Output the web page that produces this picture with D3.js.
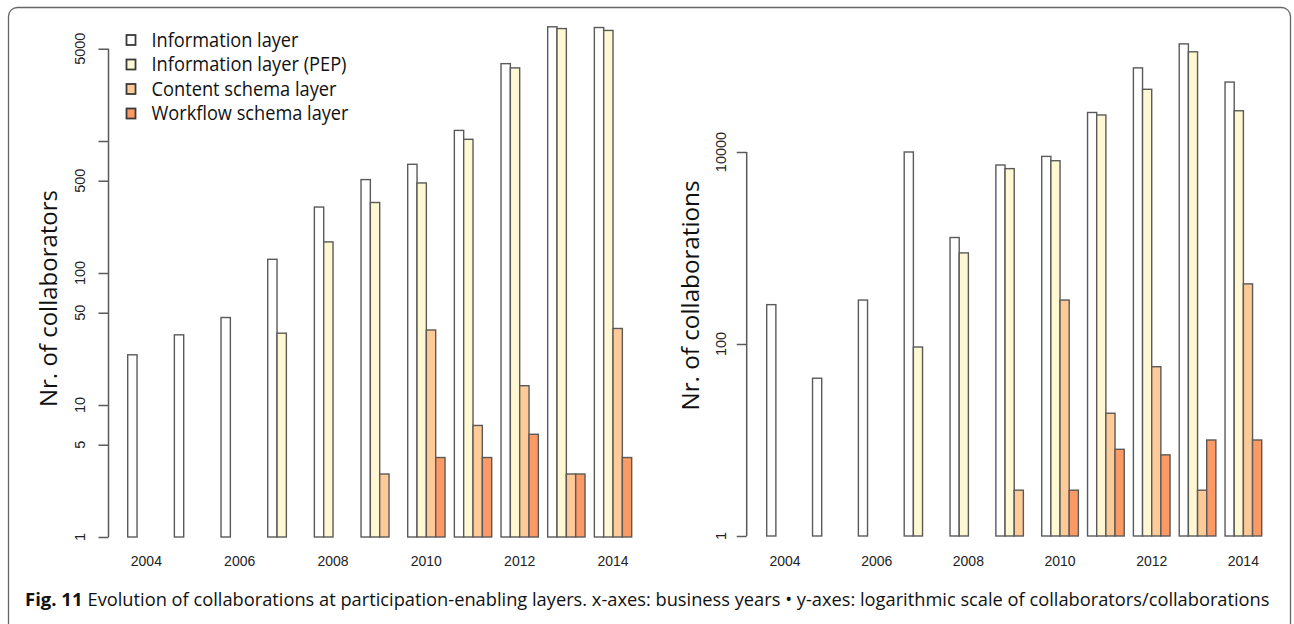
<!DOCTYPE html>
<html><head><meta charset="utf-8">
<script src="https://cdn.jsdelivr.net/npm/d3@7"></script>
<style>body{margin:0;background:#fff}svg{display:block}</style>
</head><body>
<svg id="c" width="1294" height="624"></svg>
<script>
// ---- data ----
const years = [2004,2005,2006,2007,2008,2009,2010,2011,2012,2013,2014];
const yearLabels = [2004,2006,2008,2010,2012,2014];
const seriesNames = ["Information layer","Information layer (PEP)","Content schema layer","Workflow schema layer"];
const seriesColors = ["#ffffff","#fff8d2","#fdca98","#fb9a64"];

// left: number of collaborators
const collabInfo     = [24, 34, 46, 127, 316, 510, 666, 1203, 3855, 7330, 7240];
const collabPEP      = [null, null, null, 35, 172, 342, 481, 1030, 3580, 7110, 6880];
const collabContent  = [null, null, null, null, null, 3, 37, 7, 14, 3, 38];
const collabWorkflow = [null, null, null, null, null, null, 4, 4, 6, 3, 4];
const leftTicks = [1,5,10,50,100,500,1000,5000];
const leftTickLabels = ["1","5","10","50","100","500","","5000"];

// right: number of collaborations
const collabsInfo     = [257, 44, 287, 10000, 1286, 7320, 9000, 25800, 75200, 133700, 53500];
const collabsPEP      = [null, null, null, 93, 889, 6710, 8110, 24300, 45000, 110600, 26900];
const collabsContent  = [null, null, null, null, null, 3, 287, 19, 58, 3, 423];
const collabsWorkflow = [null, null, null, null, null, null, 3, 8, 7, 10, 10];
const rightTicks = [1,100,10000];
const rightTickLabels = ["1","100","10000"];

const caption = "Evolution of collaborations at participation-enabling layers. x-axes: business years \u2022 y-axes: logarithmic scale of collaborators/collaborations";

// ---- drawing ----
const svg = d3.select("#c");
svg.append("rect").attr("x",8.5).attr("y",7.5).attr("width",1282).attr("height",700)
  .attr("rx",9).attr("fill","none").attr("stroke","#666").attr("stroke-width",1.3);

function panel(cfg){
  const g = svg.append("g");
  const w = cfg.barW;
  const x = d3.scaleBand().domain(years)
    .range([cfg.start - w, cfg.start - w + 56*w]).paddingInner(0.2).paddingOuter(0.2);
  const xs = d3.scaleBand().domain(d3.range(4)).range([0, x.bandwidth()]);
  const y = d3.scaleLog().domain([1, cfg.top]).range([cfg.y1, cfg.yTop]);
  const data = [];
  cfg.series.forEach((arr,si)=>arr.forEach((v,i)=>{ if(v!=null) data.push({year:years[i], s:si, v}); }));
  g.selectAll("rect.bar").data(data).join("rect").attr("class","bar")
    .attr("x", d=>x(d.year)+xs(d.s)).attr("width", xs.bandwidth())
    .attr("y", d=>y(d.v)).attr("height", d=>y(1)-y(d.v))
    .attr("fill", d=>seriesColors[d.s]).attr("stroke","#5a5a5a").attr("stroke-width",1.4);
  // y axis
  const ax = g.append("g").attr("transform",`translate(${cfg.axisX},0)`)
    .call(d3.axisLeft(y).tickValues(cfg.ticks).tickFormat(()=>"").tickSize(10).tickSizeOuter(0));
  ax.select(".domain").attr("stroke","#5a5a5a").attr("stroke-width",1.5).attr("d",`M0,${y(cfg.ticks[cfg.ticks.length-1])}V${y(1)}`);
  ax.selectAll(".tick line").attr("stroke","#5a5a5a").attr("stroke-width",1.5);
  ax.selectAll(".tick text").remove();
  g.selectAll("text.yl").data(cfg.ticks).join("text").attr("class","yl")
    .attr("transform",(d)=>`translate(${cfg.labelX},${y(d)}) rotate(-90)`)
    .attr("text-anchor","middle").attr("font-family","Liberation Sans, Arial, sans-serif")
    .attr("font-size",14.5).attr("fill","#222")
    .text((d,i)=>cfg.tickLabels[i]);
  // x labels
  g.selectAll("text.xl").data(yearLabels).join("text").attr("class","xl")
    .attr("x", d=>x(d)+x.bandwidth()/2).attr("y",566)
    .attr("text-anchor","middle").attr("font-family","Liberation Sans, Arial, sans-serif")
    .attr("font-size",14).attr("fill","#222").text(d=>d);
  // title
  g.append("text").attr("transform",`translate(${cfg.titleX},${cfg.titleY}) rotate(-90)`)
    .attr("text-anchor","middle").attr("font-family","Open Sans, sans-serif")
    .attr("font-size",24).attr("fill","#111")
    .attr("textLength",cfg.titleLen).attr("lengthAdjust","spacingAndGlyphs")
    .text(cfg.title);
}

panel({start:127.7, barW:9.333, top:5000, y1:537, yTop:537-132*Math.log10(5000),
  series:[collabInfo,collabPEP,collabContent,collabWorkflow], ticks:leftTicks, tickLabels:leftTickLabels,
  axisX:108.5, labelX:85, titleX:57, titleY:298.5, titleLen:217, title:"Nr. of collaborators"});
panel({start:766.7, barW:9.167, top:10000, y1:536, yTop:152,
  series:[collabsInfo,collabsPEP,collabsContent,collabsWorkflow], ticks:rightTicks, tickLabels:rightTickLabels,
  axisX:746.7, labelX:726, titleX:699, titleY:295.5, titleLen:230, title:"Nr. of collaborations"});

// legend
const legendLens = [147,195,185,197];
const lg = svg.append("g");
seriesNames.forEach((n,i)=>{
  const by = 46.5 + i*24.5;
  lg.append("rect").attr("x",126.5).attr("y",by-11.5).attr("width",9).attr("height",10)
    .attr("fill",seriesColors[i]).attr("stroke","#3a3a3a").attr("stroke-width",1.8);
  lg.append("text").attr("x",151.5).attr("y",by).attr("font-family","Open Sans, sans-serif")
    .attr("font-size",20).attr("fill","#111")
    .attr("textLength",legendLens[i]).attr("lengthAdjust","spacingAndGlyphs").text(n);
});

// caption
svg.append("text").attr("x",25).attr("y",606).attr("font-family","Open Sans, sans-serif")
  .attr("font-size",18.5).attr("font-weight","bold").attr("fill","#111")
  .attr("textLength",57.5).attr("lengthAdjust","spacingAndGlyphs").text("Fig. 11");
svg.append("text").attr("x",87.5).attr("y",606).attr("font-family","Open Sans, sans-serif")
  .attr("font-size",18.5).attr("fill","#111")
  .attr("textLength",1182).attr("lengthAdjust","spacingAndGlyphs").text(caption);
</script>
</body></html>
